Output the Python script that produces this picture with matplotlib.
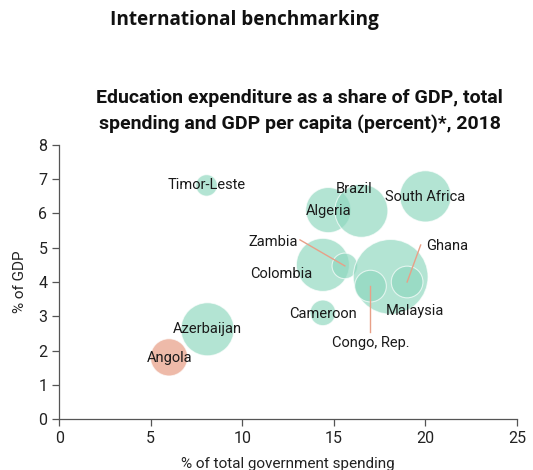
import matplotlib
matplotlib.use('Agg')
import matplotlib.pyplot as plt

# data
countries = ['Timor-Leste', 'Algeria', 'Brazil', 'South Africa', 'Colombia', 'Zambia',
             'Malaysia', 'Congo, Rep.', 'Ghana', 'Cameroon', 'Azerbaijan', 'Angola']
share_spending = [8.05, 14.7, 16.5, 20.0, 14.4, 15.6, 18.1, 17.0, 19.0, 14.4, 8.1, 6.0]
share_gdp = [6.82, 6.1, 6.08, 6.5, 4.5, 4.47, 4.15, 3.88, 4.0, 3.1, 2.62, 1.8]
# relative GDP per capita (bubble area)
gdp_pc = [1.2, 5.3, 7.3, 6.8, 7.3, 1.7, 14.5, 2.6, 2.6, 1.7, 7.3, 3.6]

# label positions
label_x = [8.05, 14.7, 16.1, 20.0, 12.1, 11.7, 19.4, 17.0, 21.2, 14.4, 8.1, 6.05]
label_y = [6.82, 6.07, 6.72, 6.48, 4.22, 5.18, 3.16, 2.21, 5.05, 3.07, 2.63, 1.77]

# leader lines: (from, to)
leaders = {'Zambia': ((13.15, 5.23), (15.6, 4.47)),
           'Ghana': ((19.74, 5.08), (19.0, 4.0)),
           'Congo, Rep.': ((17.0, 3.88), (17.0, 2.55))}

green = '#8fd8bf'
salmon = '#e79a80'
line_col = '#e8a088'

plt.rcParams['font.family'] = ['Roboto', 'DejaVu Sans']

fig = plt.figure(figsize=(5.33, 4.70), dpi=100)
ax = fig.add_axes([0.111, 0.1085, 0.859, 0.583])

colors = [salmon if c == 'Angola' else green for c in countries]
sizes = [g * 200 for g in gdp_pc]
ax.scatter(share_spending, share_gdp, s=sizes, c=colors, alpha=0.68,
           edgecolors='white', linewidths=0.8, zorder=2)

for name, (p0, p1) in leaders.items():
    ax.plot([p0[0], p1[0]], [p0[1], p1[1]], color=line_col, lw=1, zorder=3)

for name, lx, ly in zip(countries, label_x, label_y):
    ax.text(lx, ly, name, ha='center', va='center', fontsize=10.5,
            color='#1a1a1a', zorder=4)

ax.set_xlim(0, 25)
ax.set_ylim(0, 8)
ax.set_xticks([0, 5, 10, 15, 20, 25])
ax.set_yticks(range(0, 9))
for s in ['top', 'right']:
    ax.spines[s].set_visible(False)
for s in ['left', 'bottom']:
    ax.spines[s].set_color('#555555')
    ax.spines[s].set_linewidth(0.9)
ax.tick_params(colors='#555555', labelcolor='#222222', labelsize=11.5, length=5, width=0.9)
ax.set_xlabel('% of total government spending', fontsize=11, color='#222222', labelpad=8)
ax.set_ylabel('% of GDP', fontsize=11, color='#222222', labelpad=8)

fig.text(0.206, 0.957, 'International benchmarking', fontsize=13.7, fontweight='bold',
         family=['Open Sans', 'DejaVu Sans'], ha='left', va='center', color='#111111')
fig.text(0.562, 0.764, 'Education expenditure as a share of GDP, total\n'
         'spending and GDP per capita (percent)*, 2018',
         fontsize=14, fontweight='bold', family=['Roboto', 'DejaVu Sans'],
         ha='center', va='center', color='#111111', linespacing=1.5)

fig.savefig('out.png', dpi=100)
